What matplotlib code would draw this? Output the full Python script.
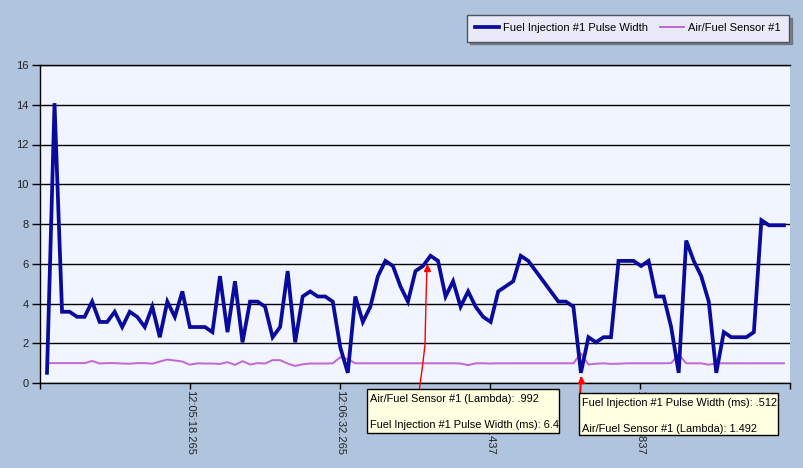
import numpy as np
import matplotlib
matplotlib.use("Agg")
import matplotlib.pyplot as plt
from matplotlib.patches import Rectangle
from matplotlib.lines import Line2D

# sampled log values (one per logger sample)
pulse_width = [0.512, 14.08, 3.584, 3.584, 3.328, 3.328, 4.096, 3.072, 3.072, 3.584,
               2.816, 3.584, 3.328, 2.816, 3.84, 2.304, 4.096, 3.328, 4.608, 2.816,
               2.816, 2.816, 2.56, 5.376, 2.56, 5.12, 2.048, 4.096, 4.096, 3.84,
               2.304, 2.816, 5.632, 2.048, 4.352, 4.608, 4.352, 4.352, 4.096, 1.792,
               0.512, 4.352, 3.072, 3.84, 5.376, 6.144, 5.888, 4.864, 4.096, 5.632,
               5.888, 6.4, 6.144, 4.352, 5.12, 3.84, 4.608, 3.84, 3.328, 3.072,
               4.608, 4.864, 5.12, 6.4, 6.144, 5.632, 5.12, 4.608, 4.096, 4.096,
               3.84, 0.512, 2.304, 2.048, 2.304, 2.304, 6.144, 6.144, 6.144, 5.888,
               6.144, 4.352, 4.352, 2.816, 0.512, 7.168, 6.144, 5.376, 4.096, 0.512,
               2.56, 2.304, 2.304, 2.304, 2.56, 8.192, 7.936, 7.936, 7.936]

lambda_afr = [1.0, 1.0, 1.0, 1.0, 1.0, 1.0, 1.11, 0.98, 1.0, 1.0,
              0.98, 0.97, 1.0, 1.0, 0.97, 1.08, 1.18, 1.13, 1.08, 0.92,
              0.99, 0.98, 0.98, 0.96, 1.05, 0.91, 1.1, 0.93, 1.0, 0.98,
              1.15, 1.15, 0.98, 0.86, 0.94, 0.98, 0.98, 0.98, 0.99, 1.3,
              1.2, 0.99, 0.992, 0.992, 0.992, 0.992, 0.992, 0.992, 0.992, 0.992,
              0.992, 0.992, 0.992, 0.992, 0.992, 0.98, 0.9, 0.99, 0.992, 0.98,
              0.992, 0.99, 0.992, 0.992, 0.992, 0.992, 0.992, 0.992, 0.992, 0.992,
              0.99, 1.492, 0.93, 0.97, 0.99, 0.96, 0.97, 0.99, 0.992, 0.992,
              0.992, 0.992, 0.992, 1.0, 1.45, 0.99, 0.99, 0.99, 0.92, 0.99,
              0.992, 0.992, 0.992, 0.99, 0.992, 0.992, 0.992, 0.992, 0.992]

tick_labels = ["", "12:05:18.265", "12:06:32.265", "12:07:46.437", "12:09:00.837", ""]
y_ticks = [0, 2, 4, 6, 8, 10, 12, 14, 16]

tip1 = ["Air/Fuel Sensor #1 (Lambda): .992", "Fuel Injection #1 Pulse Width (ms): 6.4"]
tip2 = ["Fuel Injection #1 Pulse Width (ms): .512", "Air/Fuel Sensor #1 (Lambda): 1.492"]

plt.rcParams['font.family'] = ['Liberation Sans', 'DejaVu Sans']

W, H = 804, 468
BG = '#B0C4DE'
blue = '#0a0a9c'
orchid = '#c266d6'


def fx(px):
    return px / W


def fy(py):
    return 1 - py / H


fig = plt.figure(figsize=(W / 100, H / 100), dpi=100, facecolor=BG)
ax = fig.add_axes([fx(40), fy(383), 750 / W, 318 / H])
ax.set_facecolor('#F0F5FF')

x = np.arange(len(pulse_width))
# sample index -> pixel: 47 + 7.52 * i
step, x0 = 7.52, 47
ax.set_xlim((40 - x0) / step, (790 - x0) / step)
ax.set_ylim(0, 16)

ax.plot(x, pulse_width, color=blue, lw=2.7, solid_joinstyle='miter', zorder=3,
        label='Fuel Injection #1 Pulse Width')
ax.plot(x, lambda_afr, color=orchid, lw=1.4, zorder=2, label='Air/Fuel Sensor #1')

ax.set_yticks(y_ticks)
ax.set_yticklabels([str(v) for v in y_ticks], fontsize=8, color='#222222')
ax.yaxis.grid(True, color='black', lw=1)
ax.set_axisbelow(True)

tick_px = [40, 190, 340, 490, 640, 790]
ax.set_xticks([(p - x0) / step for p in tick_px])
ax.set_xticklabels(tick_labels, rotation=-90, fontsize=8, color='#222222', va='top')
ax.tick_params(axis='y', direction='out', length=6, width=1, color='black', pad=2)
ax.tick_params(axis='x', direction='out', length=4, width=1, color='black', pad=1)

for s in ['left', 'top', 'bottom']:
    ax.spines[s].set_color('black')
    ax.spines[s].set_linewidth(1)
ax.spines['right'].set_visible(False)

# legend
leg = fig.legend(loc='upper right', bbox_to_anchor=(fx(789), fy(15)), ncol=2,
                 fontsize=8, frameon=True, fancybox=False, shadow=True,
                 facecolor='#E8EAF7', edgecolor='#505060', handlelength=2.1,
                 columnspacing=1.1, borderpad=0.75, handletextpad=0.4,
                 borderaxespad=0)
leg.get_frame().set_linewidth(1)
leg.get_frame().set_alpha(1)


def tooltip(left, top, right, bottom, lines):
    fig.patches.append(Rectangle((fx(left), fy(bottom)), fx(right) - fx(left),
                                 fy(top) - fy(bottom), transform=fig.transFigure,
                                 facecolor='#FFFFE1', edgecolor='black', lw=1, zorder=10))
    fig.text(fx(left + 3), fy(top + 10), lines[0], fontsize=7.9, va='center',
             ha='left', zorder=11)
    fig.text(fx(left + 3), fy(top + 36), lines[1], fontsize=7.9, va='center',
             ha='left', zorder=11)


# red cursor markers
cur1 = [(419, 392), (422, 370), (425, 345), (426, 300), (427, 266)]
fig.add_artist(Line2D([fx(p[0]) for p in cur1], [fy(p[1]) for p in cur1],
                      transform=fig.transFigure, color='red', lw=1, zorder=9))
fig.add_artist(Line2D([fx(427)], [fy(268)], transform=fig.transFigure, color='red',
                      marker='^', markersize=4, zorder=9))
fig.add_artist(Line2D([fx(580), fx(581)], [fy(397), fy(378)], transform=fig.transFigure,
                      color='red', lw=1.5, zorder=9))
fig.add_artist(Line2D([fx(581)], [fy(380)], transform=fig.transFigure, color='red',
                      marker='^', markersize=4, zorder=9))

tooltip(367, 389, 559, 433, tip1)
tooltip(579, 393, 778, 435, tip2)

fig.savefig('out.png', dpi=100, facecolor=BG)
